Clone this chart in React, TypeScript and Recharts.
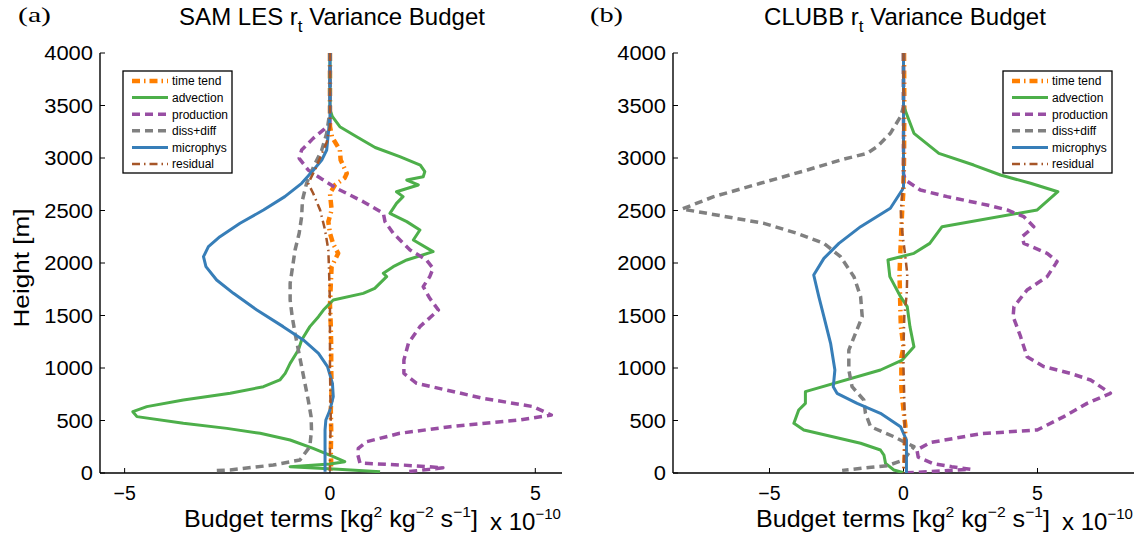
import React from 'react';
import { ScatterChart, Scatter, XAxis, YAxis } from 'recharts';

type Pt = [number, number];

// ---------- Panel (a): SAM LES  — [budget value (x1e-10), height (m)] ----------
const samTimeTend: Pt[] = [
  [0, 4000], [0, 3300], [0.05, 3200], [0.24, 3076], [0.26, 2981], [0.41, 2854], [0.36, 2810],
  [0.12, 2743], [0, 2664], [0.04, 2505], [-0.04, 2394], [0, 2283], [0.08, 2180], [0.2, 2092],
  [0.04, 1965], [0.02, 1800], [0, 1600], [0.02, 1400], [0.03, 1200], [0.03, 1000], [0.04, 800],
  [0.02, 600], [0.03, 400], [0.02, 200], [0.03, 100], [0.02, 20],
];
const samAdvection: Pt[] = [
  [0, 4000], [0, 3460], [0.06, 3394], [0.24, 3298], [0.65, 3203], [1.1, 3100], [1.7, 3013],
  [2.2, 2933], [2.31, 2870], [2.27, 2822], [1.87, 2790], [2.15, 2743], [1.62, 2679], [1.78, 2632],
  [1.62, 2568], [1.46, 2473], [1.87, 2394], [2.19, 2314], [2.03, 2219], [2.51, 2108], [1.87, 2029],
  [1.54, 1965], [1.3, 1902], [1.38, 1870], [1.09, 1759], [0.81, 1711], [0.08, 1648], [0, 1616],
  [-0.16, 1552], [-0.28, 1489], [-0.49, 1394], [-0.69, 1267], [-0.77, 1171], [-0.97, 1044],
  [-1.09, 949], [-1.22, 886], [-1.62, 822], [-2.43, 759], [-3.57, 695], [-4.46, 632], [-4.8, 584],
  [-4.7, 537], [-3.57, 473], [-2.51, 425], [-1.7, 378], [-0.97, 314], [-0.41, 235], [0.08, 156],
  [0.36, 108], [0, 85], [-0.97, 60], [0.2, 35], [1.22, 12],
];
const samProduction: Pt[] = [
  [0, 4000], [0, 3400], [0, 3330], [-0.16, 3267], [-0.41, 3187], [-0.69, 3076], [-0.75, 2997],
  [-0.53, 2886], [-0.2, 2800], [0.16, 2711], [0.81, 2584], [1.3, 2473], [1.34, 2394], [1.54, 2283],
  [1.95, 2124], [2.35, 2029], [2.51, 1949], [2.43, 1870], [2.27, 1775], [2.43, 1664], [2.64, 1552],
  [2.19, 1394], [1.91, 1235], [1.8, 1076], [1.8, 949], [2.11, 854], [2.84, 790], [3.73, 711],
  [4.95, 632], [5.39, 552], [4.62, 505], [2.92, 441], [1.7, 378], [0.89, 298], [0.69, 235],
  [0.68, 171], [0.73, 95], [1.8, 75], [2.75, 50], [1.9, 12],
];
const samDissDiff: Pt[] = [
  [0, 4000], [0, 3450], [-0.08, 3235], [-0.2, 3076], [-0.4, 2917], [-0.57, 2759], [-0.67, 2600],
  [-0.69, 2441], [-0.75, 2283], [-0.85, 2124], [-0.91, 1965], [-0.97, 1806], [-0.97, 1648],
  [-0.92, 1489], [-0.85, 1330], [-0.77, 1171], [-0.69, 1013], [-0.61, 854], [-0.53, 695],
  [-0.46, 537], [-0.45, 410], [-0.49, 251], [-0.73, 124], [-1.38, 76], [-2.43, 29], [-2.84, 22],
];
const samMicrophys: Pt[] = [
  [0, 4000], [0, 3394], [-0.08, 3076], [-0.2, 2981], [-0.4, 2886], [-0.69, 2759], [-1.1, 2632],
  [-1.62, 2505], [-2.19, 2378], [-2.68, 2251], [-2.96, 2156], [-3.08, 2060], [-3.02, 1965],
  [-2.76, 1838], [-2.35, 1711], [-1.78, 1552], [-1.14, 1394], [-0.65, 1267], [-0.28, 1140],
  [-0.06, 1013], [0.06, 854], [0.08, 727], [0, 600], [-0.1, 505], [-0.12, 410], [-0.12, 13],
];
const samResidual: Pt[] = [
  [0, 4000], [0, 3300], [-0.08, 3150], [-0.16, 3076], [-0.35, 2900], [-0.53, 2759], [-0.41, 2664],
  [-0.24, 2505], [-0.12, 2314], [-0.04, 2124], [-0.02, 1900], [0, 1600], [0, 1000], [0.02, 500],
  [0, 200], [0, 20],
];

// ---------- Panel (b): CLUBB ----------
const clubbTimeTend: Pt[] = [
  [0.02, 4000], [0.03, 3500], [0.02, 3000], [0, 2700], [-0.05, 2500], [-0.1, 2200], [-0.15, 1900],
  [-0.12, 1600], [-0.1, 1400], [0, 1200], [-0.08, 1100], [-0.08, 800], [0, 600], [0.07, 450],
  [0.05, 300], [0.04, 150], [0.03, 10],
];
const clubbAdvection: Pt[] = [
  [0, 4000], [0, 3500], [0.07, 3450], [0.39, 3235], [1.32, 3044], [2.62, 2933], [3.62, 2838],
  [4.74, 2759], [5.76, 2679], [4.99, 2505], [1.44, 2346], [0.98, 2187], [0.39, 2092], [-0.58, 2029],
  [-0.51, 1870], [-0.11, 1679], [0.14, 1584], [0.24, 1394], [0.39, 1203], [-0.05, 1076],
  [-0.86, 981], [-3.66, 775], [-3.66, 663], [-3.91, 600], [-4.09, 473], [-3.72, 410], [-1.6, 283],
  [-0.86, 219], [-0.73, 171], [-0.67, 92], [-0.36, 29], [0, 2],
];
const clubbProduction: Pt[] = [
  [0, 4000], [0, 2850], [0.07, 2790], [0.63, 2695], [1.63, 2632], [3.12, 2552], [3.87, 2505],
  [4.49, 2441], [4.86, 2346], [4.43, 2251], [4.49, 2187], [5.36, 2092], [5.73, 2013], [5.36, 1870],
  [4.61, 1743], [4.12, 1584], [4.09, 1489], [4.37, 1298], [4.61, 1108], [5.24, 1013], [6.23, 949],
  [6.98, 886], [7.72, 759], [6.85, 663], [5.98, 537], [4.99, 410], [2.9, 375], [1.0, 290],
  [0.5, 220], [0.55, 150], [1.1, 90], [1.8, 60], [2.5, 35], [1.5, 20], [0.1, 2],
];
const clubbDissDiff: Pt[] = [
  [0, 4000], [0, 3489], [-0.11, 3394], [-0.49, 3235], [-0.98, 3108], [-1.36, 3044], [-2.35, 2981],
  [-3.59, 2886], [-5.34, 2759], [-7.08, 2632], [-8.26, 2514], [-7.33, 2473], [-5.21, 2378],
  [-3.97, 2283], [-2.97, 2187], [-2.35, 2060], [-1.85, 1870], [-1.6, 1679], [-1.54, 1489],
  [-1.79, 1330], [-2.04, 1171], [-2.04, 981], [-1.92, 822], [-1.48, 695], [-1.42, 568],
  [-1.23, 441], [-0.36, 346], [0.01, 298], [0.39, 251], [0.2, 190], [0.01, 124], [-0.6, 70],
  [-1.2, 55], [-2.29, 25],
];
const clubbMicrophys: Pt[] = [
  [0, 4000], [0, 2720], [-0.05, 2695], [-0.49, 2521], [-1.6, 2346], [-2.41, 2187], [-2.97, 2044],
  [-3.35, 1886], [-3.16, 1679], [-2.97, 1489], [-2.72, 1235], [-2.56, 981], [-2.62, 822],
  [-2.48, 759], [-1.73, 663], [-0.86, 568], [-0.11, 441], [0.11, 314], [0.11, 0],
];
const clubbResidual: Pt[] = [
  [0, 4000], [0, 3000], [-0.03, 2700], [-0.1, 2500], [-0.05, 2300], [0.05, 2100], [0.14, 1900],
  [0.12, 1700], [0.03, 1500], [0, 1200], [0, 1000], [0.03, 700], [0.05, 400], [0.03, 200], [0, 0],
];

// ---------- labels & ticks ----------
const seriesNames = ['time tend', 'advection', 'production', 'diss+diff', 'microphys', 'residual'];
const yTicks = [0, 500, 1000, 1500, 2000, 2500, 3000, 3500, 4000];
const samXTicks = [-5, 0, 5];
const clubbXTicks = [-5, 0, 5];
const samXDomain: [number, number] = [-5.6, 5.65];
const clubbXDomain: [number, number] = [-8.6, 8.6];

const seriesStyles = [
  { color: '#FF7F00', width: 4.5, dash: '8 4 1.5 4' },
  { color: '#4DAF4A', width: 3, dash: undefined },
  { color: '#984EA3', width: 3.5, dash: '8 5' },
  { color: '#808080', width: 3.5, dash: '8 5' },
  { color: '#377EB8', width: 3, dash: undefined },
  { color: '#A65628', width: 2.5, dash: '8 4 1.5 4' },
];

const FONT = '"Liberation Sans", Arial, Helvetica, sans-serif';
const SERIF = '"Liberation Serif", "DejaVu Serif", serif';
const fmt = (v: number) => (v < 0 ? '\u2212' + Math.abs(v) : String(v));
const toPts = (a: Pt[]) => a.map(([x, h]) => ({ x, h }));

const XTick = (props: any) => {
  const { x, y, payload } = props;
  const s = fmt(payload.value);
  return (
    <text x={x} y={y + 27} textAnchor="middle" fontSize={19.5} fontFamily={FONT} fill="#000">
      {s}
    </text>
  );
};
const YTick = (props: any) => {
  const { x, y, payload } = props;
  const s = fmt(payload.value);
  return (
    <text x={x} y={y + 7} textAnchor="end" fontSize={19.5} fontFamily={FONT} fill="#000"
      textLength={12.2 * s.length} lengthAdjust="spacingAndGlyphs">
      {s}
    </text>
  );
};
const NoTick = () => <g />;
const NoShape = () => <g />;

type PanelProps = {
  x0: number; w: number; plotR: number; domain: [number, number]; xTicks: number[]; data: Pt[][];
};

function Panel({ x0, w, plotR, domain, xTicks, data }: PanelProps) {
  const axisLine = { stroke: '#000', strokeWidth: 1.4 };
  const tickLine = { stroke: '#000', strokeWidth: 1 };
  return (
    <div style={{ position: 'absolute', left: x0, top: 0 }}>
      <ScatterChart width={w} height={541} margin={{ top: 53, right: w - plotR, bottom: 38, left: 40 }}>
        <XAxis xAxisId="b" type="number" dataKey="x" domain={domain} ticks={xTicks} interval={0}
          allowDataOverflow orientation="bottom" height={30} tickSize={-5} tickMargin={5}
          tick={XTick} axisLine={axisLine} tickLine={tickLine} />
        <XAxis xAxisId="t" type="number" dataKey="x" domain={domain} ticks={xTicks} interval={0}
          allowDataOverflow orientation="top" height={0} tickSize={-5} tick={NoTick}
          axisLine={axisLine} tickLine={tickLine} />
        <YAxis yAxisId="l" type="number" dataKey="h" domain={[0, 4000]} ticks={yTicks} interval={0}
          allowDataOverflow orientation="left" width={60} tickSize={-5} tickMargin={12}
          tick={YTick} axisLine={axisLine} tickLine={tickLine} />
        <YAxis yAxisId="r" type="number" dataKey="h" domain={[0, 4000]} ticks={yTicks} interval={0}
          allowDataOverflow orientation="right" width={0} tickSize={-5} tick={NoTick}
          axisLine={axisLine} tickLine={tickLine} />
        {data.map((d, i) => (
          <Scatter key={seriesNames[i]} name={seriesNames[i]} xAxisId="b" yAxisId="l" data={toPts(d)}
            fill={seriesStyles[i].color} shape={NoShape} legendType="none" isAnimationActive={false}
            line={{ stroke: seriesStyles[i].color, strokeWidth: seriesStyles[i].width,
              strokeDasharray: seriesStyles[i].dash, strokeLinejoin: 'round' }} />
        ))}
      </ScatterChart>
    </div>
  );
}

function LegendBox({ x, y }: { x: number; y: number }) {
  return (
    <g>
      <rect x={x} y={y} width={109} height={102} fill="#fff" stroke="#000" strokeWidth={1.3} />
      {seriesNames.map((n, i) => {
        const cy = y + 10 + i * 16.6;
        const st = seriesStyles[i];
        return (
          <g key={n}>
            <line x1={x + 9} x2={x + 45} y1={cy} y2={cy} stroke={st.color} strokeWidth={st.width}
              strokeDasharray={st.dash} />
            <text x={x + 49} y={cy + 4.3} fontSize={12} fontFamily={FONT} fill="#000">{n}</text>
          </g>
        );
      })}
    </g>
  );
}

function Labels({ cx, letter, letterX, title, labelStart }: { cx: number; letter: string; letterX: number; title: string; labelStart: number }) {
  return (
    <g fontFamily={FONT} fill="#000">
      <text x={letterX} y={22} fontFamily={SERIF} fontSize={22} textLength={33} lengthAdjust="spacingAndGlyphs">
        {letter}
      </text>
      <text x={cx} y={25} textAnchor="middle" fontSize={24}>
        {title}<tspan fontSize={17} dy={7}>t</tspan><tspan dy={-7}> Variance Budget</tspan>
      </text>
      <text x={labelStart} y={527} fontSize={24} textLength={294} lengthAdjust="spacingAndGlyphs">
        Budget terms [kg<tspan fontSize={15} dy={-10}>2</tspan><tspan dy={10}> kg</tspan>
        <tspan fontSize={15} dy={-10}>{'\u22122'}</tspan><tspan dy={10}> s</tspan>
        <tspan fontSize={15} dy={-10}>{'\u22121'}</tspan><tspan dy={10}>]</tspan>
      </text>
      <text x={labelStart + 306} y={530} fontSize={24}>
        x 10<tspan fontSize={15} dy={-11}>{'\u221210'}</tspan>
      </text>
    </g>
  );
}

export default function App() {
  return (
    <div style={{ position: 'absolute', left: 0, top: 0, width: 1141, height: 541, background: '#fff' }}>
      <Panel x0={0} w={570} plotR={562} domain={samXDomain} xTicks={samXTicks}
        data={[samTimeTend, samAdvection, samProduction, samDissDiff, samMicrophys, samResidual]} />
      <Panel x0={573} w={568} plotR={561} domain={clubbXDomain} xTicks={clubbXTicks}
        data={[clubbTimeTend, clubbAdvection, clubbProduction, clubbDissDiff, clubbMicrophys, clubbResidual]} />
      <svg width={1141} height={541} style={{ position: 'absolute', left: 0, top: 0, pointerEvents: 'none' }}>
        <LegendBox x={123} y={71} />
        <LegendBox x={1003} y={71} />
        <Labels cx={332} letter="(a)" letterX={18} title="SAM LES r" labelStart={184} />
        <Labels cx={905} letter="(b)" letterX={590} title="CLUBB r" labelStart={756} />
        <text transform="translate(29,268) rotate(-90)" textAnchor="middle" fontSize={22}
          fontFamily={FONT} fill="#000" textLength={119} lengthAdjust="spacingAndGlyphs">Height [m]</text>
      </svg>
    </div>
  );
}
